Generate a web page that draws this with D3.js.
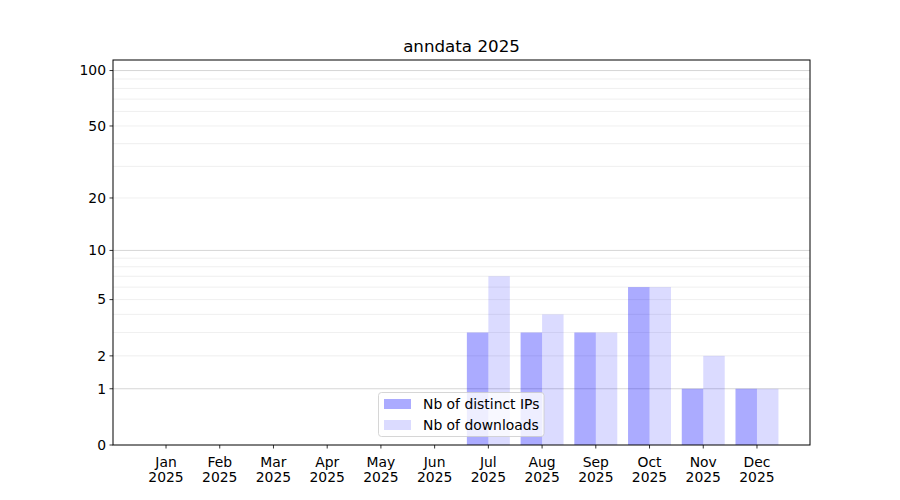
<!DOCTYPE html>
<html><head><meta charset="utf-8">
<script src="https://cdn.jsdelivr.net/npm/d3@7"></script>
<style>body{margin:0;background:#fff}svg{font-family:"DejaVu Sans",sans-serif}</style>
</head><body><svg id="c" width="900" height="500"></svg>
<script>
const months = ["Jan","Feb","Mar","Apr","May","Jun","Jul","Aug","Sep","Oct","Nov","Dec"];
const yearLabel = "2025";
const distinctIPs = [0,0,0,0,0,0,3,3,3,6,1,1];
const downloads = [0,0,0,0,0,0,7,4,3,6,2,1];
const yTicks = [0,1,2,5,10,20,50,100];
const yMajorGrid = [1,10,100];
const yMinorGrid = [2,3,4,5,6,7,8,9,20,30,40,50,60,70,80,90];
const title = "anndata 2025";
const seriesNames = ["Nb of distinct IPs","Nb of downloads"];

const svg = d3.select("#c");
const L=113,R=810,T=60,B=445;
const tf = v => Math.log10(1+v);
const yl = d3.scaleLinear().domain([0, tf(114)]).range([B, T]);
const y = v => yl(tf(v));
const x = d3.scaleLinear().domain([-0.987, 11.987]).range([L, R]);
const bw = x(0.4)-x(0);
const fs = "13.9px";

// grid
svg.append("g").selectAll("line").data(yMinorGrid).join("line")
  .attr("x1",L).attr("x2",R).attr("y1",d=>y(d)).attr("y2",d=>y(d))
  .attr("stroke","#ebebeb").attr("stroke-width",0.8);
svg.append("g").selectAll("line").data(yMajorGrid).join("line")
  .attr("x1",L).attr("x2",R).attr("y1",d=>y(d)).attr("y2",d=>y(d))
  .attr("stroke","#cccccc").attr("stroke-width",0.8);

// bars
svg.append("g").selectAll("rect").data(distinctIPs).join("rect")
  .attr("x",(d,i)=>x(i-0.4)).attr("width",bw)
  .attr("y",d=>y(d)).attr("height",d=>B-y(d))
  .attr("fill","#0000ff").attr("fill-opacity",0.33);
svg.append("g").selectAll("rect").data(downloads).join("rect")
  .attr("x",(d,i)=>x(i)).attr("width",bw)
  .attr("y",d=>y(d)).attr("height",d=>B-y(d))
  .attr("fill","#0000ff").attr("fill-opacity",0.14);

// axes frame
svg.append("rect").attr("x",L).attr("y",T).attr("width",R-L).attr("height",B-T)
  .attr("fill","none").attr("stroke","#000").attr("stroke-width",1);

// y ticks
const yg = svg.append("g");
yTicks.forEach(v=>{
  yg.append("line").attr("x1",L-3.5).attr("x2",L).attr("y1",y(v)).attr("y2",y(v)).attr("stroke","#000").attr("stroke-width",0.8);
  yg.append("text").attr("x",L-7).attr("y",y(v)).attr("dy","0.35em").attr("text-anchor","end")
    .attr("font-size",fs).text(v);
});
// x ticks
const xg = svg.append("g");
months.forEach((m,i)=>{
  xg.append("line").attr("x1",x(i)).attr("x2",x(i)).attr("y1",B).attr("y2",B+3.5).attr("stroke","#000").attr("stroke-width",0.8);
  const t = xg.append("text").attr("x",x(i)).attr("text-anchor","middle").attr("font-size",fs);
  t.append("tspan").attr("x",x(i)).attr("y",466.5).text(m);
  t.append("tspan").attr("x",x(i)).attr("y",482).text(yearLabel);
});

// title
svg.append("text").attr("x",(L+R)/2).attr("y",52).attr("text-anchor","middle").attr("font-size","16.7px").text(title);

// legend
const lg = svg.append("g");
lg.append("rect").attr("x",378.5).attr("y",392.5).attr("width",165.5).attr("height",44).attr("rx",3)
  .attr("fill","#fff").attr("fill-opacity",0.8).attr("stroke","#cccccc").attr("stroke-width",0.8);
const op=[0.33,0.14];
seriesNames.forEach((n,i)=>{
  lg.append("rect").attr("x",384).attr("y",399+i*21).attr("width",27).attr("height",10)
    .attr("fill","#0000ff").attr("fill-opacity",op[i]);
  lg.append("text").attr("x",423).attr("y",404+i*21).attr("dy","0.35em").attr("font-size",fs).text(n);
});
</script></body></html>
